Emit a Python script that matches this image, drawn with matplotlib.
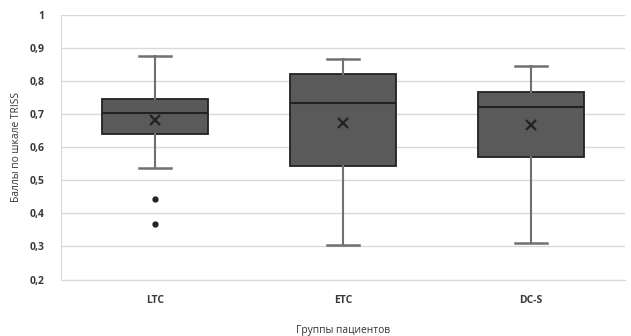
import matplotlib
matplotlib.use("Agg")
import matplotlib.pyplot as plt
from matplotlib.ticker import FuncFormatter

categories = ["LTC", "ETC", "DC-S"]
whisker_low = [0.536, 0.306, 0.311]
q1 = [0.639, 0.544, 0.570]
median = [0.704, 0.735, 0.723]
q3 = [0.746, 0.822, 0.768]
whisker_high = [0.877, 0.866, 0.847]
means = [0.684, 0.674, 0.667]
outliers = [[0.444, 0.368], [], []]
yticks = [0.2, 0.3, 0.4, 0.5, 0.6, 0.7, 0.8, 0.9, 1.0]

plt.rcParams['font.family'] = ['Open Sans', 'DejaVu Sans']

fig = plt.figure(figsize=(6.31, 3.36), dpi=100)
ax = fig.add_axes([0.0967, 0.168, 0.8933, 0.787])

stats = []
for i, c in enumerate(categories):
    stats.append(dict(label=c, whislo=whisker_low[i], q1=q1[i], med=median[i],
                      q3=q3[i], whishi=whisker_high[i], mean=means[i],
                      fliers=outliers[i]))

ax.bxp(stats, positions=range(len(categories)), widths=0.565, patch_artist=True,
       showmeans=True, showfliers=True,
       boxprops=dict(facecolor='#5a5a5a', edgecolor='#222222', linewidth=1.3),
       medianprops=dict(color='#222222', linewidth=1.5),
       whiskerprops=dict(color='#707070', linewidth=1.5),
       capprops=dict(color='#707070', linewidth=1.8),
       capwidths=0.17,
       meanprops=dict(marker='x', markeredgecolor='#222222', markersize=7, markeredgewidth=1.6),
       flierprops=dict(marker='o', markerfacecolor='#222222', markeredgecolor='#222222', markersize=3.5))

ax.set_xlim(-0.5, 2.5)
ax.set_ylim(0.2, 1.0)
ax.set_yticks(yticks)
ax.yaxis.set_major_formatter(FuncFormatter(lambda v, p: ('%g' % v).replace('.', ',')))
ax.yaxis.grid(True, color='#d9d9d9', linewidth=1)
ax.set_axisbelow(True)
for s in ['top', 'right']:
    ax.spines[s].set_visible(False)
ax.spines['left'].set_color('#d9d9d9')
ax.spines['bottom'].set_color('#d9d9d9')
ax.tick_params(axis='both', length=0, labelsize=7.5, colors='#3a3a3a')
ax.tick_params(axis='y', pad=12)
ax.tick_params(axis='x', pad=11)
for lab in ax.get_yticklabels() + ax.get_xticklabels():
    lab.set_fontweight('bold')
ax.set_ylabel('Баллы по шкале TRISS', fontsize=7.4, color='#333333', labelpad=5)
ax.set_xlabel('Группы пациентов', fontsize=7.4, color='#333333', labelpad=14)

fig.savefig('out.png', dpi=100)
